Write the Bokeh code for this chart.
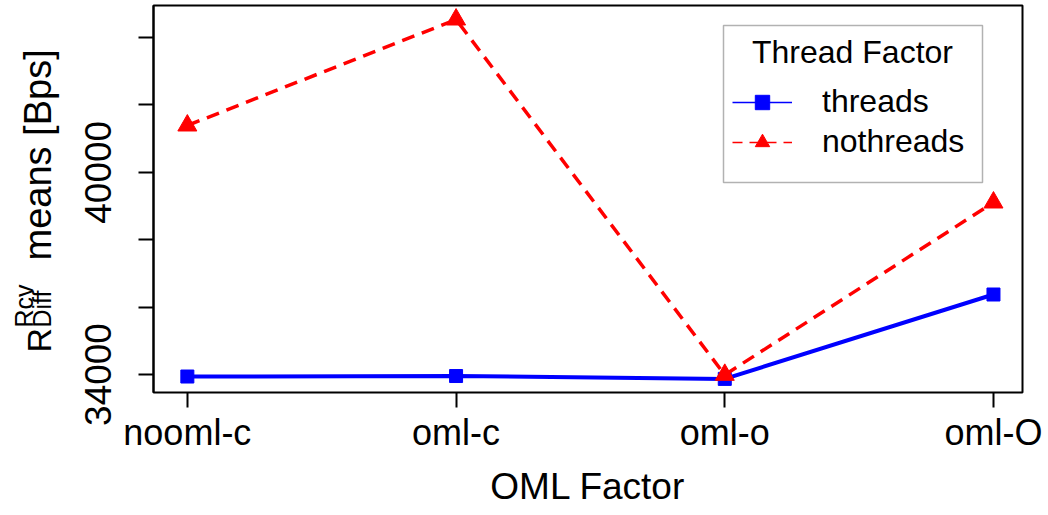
import math
from bokeh.plotting import figure
from bokeh.layouts import row
from bokeh.models import (ColumnDataSource, Range1d, FixedTicker, Legend,
                          LegendItem, Label, BoxAnnotation)
from bokeh.embed import file_html
from bokeh.resources import INLINE

# ---- data ----
categories = ["nooml-c", "oml-c", "oml-o", "oml-O"]
threads = [33940, 33955, 33870, 36374]
nothreads = [41389, 44534, 33990, 39104]
y_ticks = [34000, 36000, 38000, 40000, 42000, 44000]
y_shown = [34000, 40000]
series_names = ["threads", "nothreads"]
legend_title = "Thread Factor"
x_title = "OML Factor"
y_title_parts = ["R", "Rcv", "Diff", "means [Bps]"]

FONT = "Liberation Sans"
W, H = 1048, 515
LEFT_W = 60
xs = list(range(1, len(categories) + 1))

# ---- narrow figure carrying the y-axis title  R^{Rcv}_{Diff} means [Bps] ----
t = figure(width=LEFT_W, height=H, output_backend="svg", toolbar_location=None,
           x_range=Range1d(0, LEFT_W), y_range=Range1d(0, H),
           x_axis_type=None, y_axis_type=None, min_border=0)
t.frame_width = LEFT_W
t.frame_height = H
t.grid.visible = False
t.outline_line_color = None
t.border_fill_color = "white"
t.background_fill_color = "white"
# layout: (x of text middle line, y of text start from top, font size)
ypos = [(38, 347, 34), (23, 322, 25), (41, 322, 25), (37, 255, 38)]
for txt, (mx, y0, fs) in zip(y_title_parts, ypos):
    t.text(x=[mx], y=[H - y0], text=[txt], angle=math.pi / 2,
           text_align="left", text_baseline="middle",
           text_font={"value": FONT}, text_font_size=f"{fs}px",
           text_color="black")

# ---- main figure ----
p = figure(width=W - LEFT_W, height=H, output_backend="svg",
           toolbar_location=None,
           x_range=Range1d(0.874, 4.108), y_range=Range1d(33466, 44950),
           min_border_left=153 - LEFT_W, min_border_right=26,
           min_border_top=5, min_border_bottom=123)
p.grid.visible = False
p.background_fill_color = "white"
p.border_fill_color = "white"
p.outline_line_color = "black"
p.outline_line_width = 2

xa = p.xaxis[0]
xa.ticker = FixedTicker(ticks=xs)
xa.major_label_overrides = {i: c for i, c in zip(xs, categories)}
xa.axis_line_alpha = 0
xa.major_tick_out = 15
xa.major_tick_in = 0
xa.major_tick_line_width = 2
xa.minor_tick_line_alpha = 0
xa.major_label_text_font = FONT
xa.major_label_text_font_size = "36px"
xa.major_label_text_color = "black"
xa.major_label_standoff = 4
xa.axis_label = x_title
xa.axis_label_text_font = FONT
xa.axis_label_text_font_size = "37px"
xa.axis_label_text_font_style = "normal"
xa.axis_label_text_color = "black"
xa.axis_label_standoff = 10

ya = p.yaxis[0]
ya.ticker = FixedTicker(ticks=y_ticks)
ya.major_label_overrides = {v: (str(v) if v in y_shown else "") for v in y_ticks}
ya.axis_line_color = "black"
ya.axis_line_width = 2
ya.major_tick_out = 15
ya.major_tick_in = 0
ya.major_tick_line_width = 2
ya.minor_tick_line_alpha = 0
ya.major_label_orientation = "vertical"
ya.major_label_text_font = FONT
ya.major_label_text_font_size = "37px"
ya.major_label_text_color = "black"
ya.major_label_standoff = 27

src_t = ColumnDataSource(dict(x=xs, y=threads))
src_n = ColumnDataSource(dict(x=xs, y=nothreads))
p.line("x", "y", source=src_t, line_color="#0000FF", line_width=4)
p.scatter("x", "y", source=src_t, marker="square", size=13,
          fill_color="#0000FF", line_color="#0000FF")
p.line("x", "y", source=src_n, line_color="#FF0000", line_width=3.5,
       line_dash="13 8")
p.scatter("x", "y", source=src_n, marker="triangle", size=19,
          fill_color="#FF0000", line_color="#FF0000")

# thin key glyphs for the legend (no visible data)
nan = float("nan")
e1 = ColumnDataSource(dict(x=[nan], y=[nan]))
e2 = ColumnDataSource(dict(x=[nan], y=[nan]))
l1 = p.line("x", "y", source=e1, line_color="#0000FF", line_width=1.5)
m1 = p.scatter("x", "y", source=e1, marker="square", size=15,
               fill_color="#0000FF", line_color="#0000FF")
l2 = p.line("x", "y", source=e2, line_color="#FF0000", line_width=1.5,
            line_dash="10 7")
m2 = p.scatter("x", "y", source=e2, marker="triangle", size=21,
               fill_color="#FF0000", line_color="#FF0000")

legend = Legend(items=[LegendItem(label=series_names[0], renderers=[l1, m1]),
                       LegendItem(label=series_names[1], renderers=[l2, m2])],
                location=(571, 224), padding=8, spacing=3,
                glyph_width=60, glyph_height=36, label_height=36,
                label_width=152, label_standoff=30,
                label_text_font=FONT, label_text_font_size="32px",
                label_text_color="black",
                border_line_alpha=0, background_fill_alpha=0)
p.add_layout(legend)

p.add_layout(BoxAnnotation(left=570, right=829, bottom=210, top=367,
                           left_units="screen", right_units="screen",
                           bottom_units="screen", top_units="screen",
                           fill_alpha=0, line_color="black", line_width=1.5))
p.add_layout(Label(x=699, y=341, x_units="screen", y_units="screen",
                   text=legend_title, text_align="center",
                   text_baseline="middle", text_font=FONT,
                   text_font_size="32px", text_color="black"))

layout = row(t, p, spacing=0)
open("out.html", "w").write(file_html(layout, INLINE))
